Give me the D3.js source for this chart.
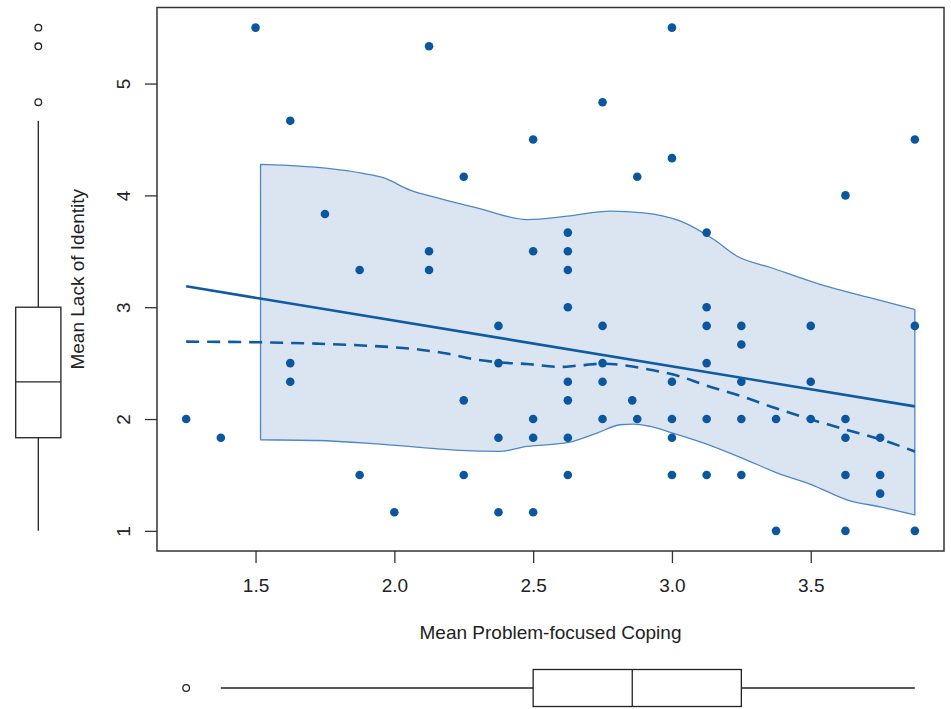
<!DOCTYPE html>
<html>
<head>
<meta charset="utf-8">
<script src="https://cdn.jsdelivr.net/npm/d3@7/dist/d3.min.js"></script>
<style>
  html, body { margin: 0; padding: 0; background: #fff; }
  text { font-family: "Liberation Sans", Arial, Helvetica, sans-serif; fill: #222; }
</style>
</head>
<body>
<svg id="chart" width="951" height="709"></svg>
<script>
// Respondents: mean problem-focused coping (x) vs mean lack of identity (y)
const copingX = [
  1.25, 1.375, 1.5, 1.625, 1.625, 1.625, 1.75, 1.875, 1.875, 2.0,
  2.125, 2.125, 2.125, 2.25, 2.25, 2.25, 2.375, 2.375, 2.375, 2.375,
  2.5, 2.5, 2.5, 2.5, 2.5, 2.625, 2.625, 2.625, 2.625, 2.625,
  2.625, 2.625, 2.625, 2.75, 2.75, 2.75, 2.75, 2.75, 2.857, 2.875,
  2.875, 3.0, 3.0, 3.0, 3.0, 3.0, 3.0, 3.125, 3.125, 3.125,
  3.125, 3.125, 3.125, 3.25, 3.25, 3.25, 3.25, 3.25, 3.375, 3.375,
  3.5, 3.5, 3.5, 3.625, 3.625, 3.625, 3.625, 3.625, 3.75, 3.75,
  3.75, 3.875, 3.875, 3.875
];
const identityY = [
  2.0, 1.833, 5.5, 4.667, 2.5, 2.333, 3.833, 3.333, 1.5, 1.167,
  5.333, 3.5, 3.333, 4.167, 2.167, 1.5, 2.833, 2.5, 1.833, 1.167,
  4.5, 3.5, 2.0, 1.833, 1.167, 3.667, 3.5, 3.333, 3.0, 2.333,
  2.167, 1.833, 1.5, 4.833, 2.833, 2.5, 2.333, 2.0, 2.167, 4.167,
  2.0, 5.5, 4.333, 2.333, 2.0, 1.833, 1.5, 3.667, 3.0, 2.833,
  2.5, 2.0, 1.5, 2.833, 2.667, 2.333, 2.0, 1.5, 2.0, 1.0,
  2.833, 2.333, 2.0, 4.0, 2.0, 1.833, 1.5, 1.0, 1.833, 1.5,
  1.333, 4.5, 2.833, 1.0
];

// Linear fit: identity = intercept + slope * coping
const fitIntercept = 3.698;
const fitSlope = -0.409;

// Loess smoother (dashed)
const smoothX = [1.25, 1.52, 1.72, 1.90, 2.093, 2.177, 2.297, 2.377, 2.478, 2.598,
  2.658, 2.752, 2.838, 2.922, 3.03, 3.115, 3.253, 3.355, 3.504, 3.629, 3.755, 3.875];
const smoothY = [2.692, 2.686, 2.674, 2.656, 2.620, 2.591, 2.531, 2.507, 2.492, 2.466,
  2.477, 2.495, 2.477, 2.441, 2.381, 2.307, 2.202, 2.113, 1.994, 1.904, 1.815, 1.71];

// Confidence band edges
const bandUpperX = [1.518, 1.600, 1.888, 1.960, 2.057, 2.165, 2.297, 2.478, 2.622, 2.778,
  2.898, 3.031, 3.151, 3.235, 3.355, 3.536, 3.716, 3.875];
const bandUpperY = [4.277, 4.270, 4.196, 4.158, 4.047, 3.972, 3.889, 3.784, 3.814, 3.859,
  3.844, 3.769, 3.605, 3.456, 3.355, 3.202, 3.083, 2.979];
const bandLowerX = [1.518, 1.720, 1.900, 2.093, 2.237, 2.377, 2.478, 2.628, 2.730, 2.814,
  2.862, 2.922, 3.003, 3.115, 3.253, 3.380, 3.504, 3.630, 3.755, 3.875];
const bandLowerY = [1.815, 1.808, 1.785, 1.746, 1.719, 1.710, 1.755, 1.791, 1.875, 1.949,
  1.955, 1.934, 1.875, 1.785, 1.651, 1.517, 1.412, 1.278, 1.212, 1.143];

// Marginal box plot summaries: [lower whisker, Q1, median, Q3, upper whisker]
const copingBox = [1.375, 2.5, 2.857, 3.25, 3.875];
const copingOutliers = [1.25];
const identityBox = [1.0, 1.833, 2.333, 3.0, 4.667];
const identityOutliers = [4.833, 5.333, 5.5];

const xTicks = [1.5, 2.0, 2.5, 3.0, 3.5];
const yTicks = [1, 2, 3, 4, 5];

const xTitle = "Mean Problem-focused Coping";
const yTitle = "Mean Lack of Identity";

// ---- layout ----
const plot = { left: 157, top: 7.5, right: 944, bottom: 551 };
const pointColor = "#0b579f";
const lineColor = "#0f5aa3";
const bandFill = "#dae5f1";
const bandStroke = "#4f87c3";
const ink = "#222";
const fontSize = 19;

const svg = d3.select("#chart");

function padded(ext) {
  const r = ext[1] - ext[0];
  return [ext[0] - 0.04 * r, ext[1] + 0.04 * r];
}

const x = d3.scaleLinear()
  .domain(padded(d3.extent(copingX)))
  .range([plot.left, plot.right]);
const y = d3.scaleLinear()
  .domain(padded(d3.extent(identityY)))
  .range([plot.bottom, plot.top]);

const edge = d3.line().x(d => x(d[0])).y(d => y(d[1])).curve(d3.curveMonotoneX);

// confidence band: upper edge left->right, then lower edge right->left
const upperPath = edge(bandUpperX.map((v, i) => [v, bandUpperY[i]]));
const lowerPathRev = edge(bandLowerX.map((v, i) => [v, bandLowerY[i]]).reverse());
svg.append("path")
  .attr("d", upperPath + "L" + lowerPathRev.slice(1) + "Z")
  .attr("fill", bandFill)
  .attr("stroke", bandStroke)
  .attr("stroke-width", 1.3)
  .attr("stroke-linejoin", "round");

// scatter points
svg.append("g").selectAll("circle")
  .data(copingX.map((v, i) => [v, identityY[i]]))
  .join("circle")
  .attr("cx", d => x(d[0]))
  .attr("cy", d => y(d[1]))
  .attr("r", 4.3)
  .attr("fill", pointColor);

// linear fit
const fitX = d3.extent(copingX);
svg.append("line")
  .attr("x1", x(fitX[0])).attr("y1", y(fitIntercept + fitSlope * fitX[0]))
  .attr("x2", x(fitX[1])).attr("y2", y(fitIntercept + fitSlope * fitX[1]))
  .attr("stroke", lineColor)
  .attr("stroke-width", 2.6);

// loess smoother
svg.append("path")
  .attr("d", edge(smoothX.map((v, i) => [v, smoothY[i]])))
  .attr("fill", "none")
  .attr("stroke", lineColor)
  .attr("stroke-width", 2.6)
  .attr("stroke-dasharray", "13,8");

// frame
svg.append("rect")
  .attr("x", plot.left).attr("y", plot.top)
  .attr("width", plot.right - plot.left).attr("height", plot.bottom - plot.top)
  .attr("fill", "none").attr("stroke", "#333").attr("stroke-width", 1.5);

// x axis
const xAxis = d3.axisBottom(x).tickValues(xTicks).tickFormat(d3.format(".1f"))
  .tickSize(12).tickPadding(16);
const gx = svg.append("g").attr("transform", `translate(0,${plot.bottom})`).call(xAxis);
gx.select(".domain").remove();
gx.selectAll("line").attr("stroke", "#333").attr("stroke-width", 1.3);
gx.selectAll("text").attr("font-size", fontSize).attr("fill", ink)
  .attr("font-family", "Liberation Sans, Arial, sans-serif");

// y axis
const yAxis = d3.axisLeft(y).tickValues(yTicks).tickFormat(d3.format("d")).tickSize(12);
const gy = svg.append("g").attr("transform", `translate(${plot.left},0)`).call(yAxis);
gy.select(".domain").remove();
gy.selectAll("line").attr("stroke", "#333").attr("stroke-width", 1.3);
gy.selectAll("text")
  .attr("font-size", fontSize).attr("fill", ink)
  .attr("font-family", "Liberation Sans, Arial, sans-serif")
  .attr("x", null).attr("dy", null)
  .attr("text-anchor", "middle")
  .attr("transform", "translate(-27,0) rotate(-90)");

// axis titles
svg.append("text")
  .attr("x", (plot.left + plot.right) / 2).attr("y", 639)
  .attr("text-anchor", "middle").attr("font-size", fontSize)
  .text(xTitle);
svg.append("text")
  .attr("transform", `translate(83.5,${(plot.top + plot.bottom) / 2}) rotate(-90)`)
  .attr("text-anchor", "middle").attr("font-size", fontSize)
  .text(yTitle);

// marginal box plot for coping (bottom)
const bx = svg.append("g").attr("stroke", ink).attr("stroke-width", 1.3).attr("fill", "none");
const bxMid = 688, bxHalf = 18.5;
bx.append("line").attr("x1", x(copingBox[0])).attr("x2", x(copingBox[1]))
  .attr("y1", bxMid).attr("y2", bxMid);
bx.append("line").attr("x1", x(copingBox[3])).attr("x2", x(copingBox[4]))
  .attr("y1", bxMid).attr("y2", bxMid);
bx.append("rect").attr("x", x(copingBox[1])).attr("y", bxMid - bxHalf)
  .attr("width", x(copingBox[3]) - x(copingBox[1])).attr("height", bxHalf * 2)
  .attr("fill", "#fff");
bx.append("line").attr("x1", x(copingBox[2])).attr("x2", x(copingBox[2]))
  .attr("y1", bxMid - bxHalf).attr("y2", bxMid + bxHalf);
bx.selectAll("circle.out").data(copingOutliers).join("circle")
  .attr("class", "out").attr("cx", d => x(d)).attr("cy", bxMid).attr("r", 3.3);

// marginal box plot for identity (left)
const by = svg.append("g").attr("stroke", ink).attr("stroke-width", 1.3).attr("fill", "none");
const byMid = 38.3, byHalf = 22.6;
by.append("line").attr("y1", y(identityBox[0])).attr("y2", y(identityBox[1]))
  .attr("x1", byMid).attr("x2", byMid);
by.append("line").attr("y1", y(identityBox[3])).attr("y2", y(identityBox[4]))
  .attr("x1", byMid).attr("x2", byMid);
by.append("rect").attr("y", y(identityBox[3])).attr("x", byMid - byHalf)
  .attr("height", y(identityBox[1]) - y(identityBox[3])).attr("width", byHalf * 2)
  .attr("fill", "#fff");
by.append("line").attr("y1", y(identityBox[2])).attr("y2", y(identityBox[2]))
  .attr("x1", byMid - byHalf).attr("x2", byMid + byHalf);
by.selectAll("circle.out").data(identityOutliers).join("circle")
  .attr("class", "out").attr("cy", d => y(d)).attr("cx", byMid).attr("r", 3.3);
</script>
</body>
</html>
